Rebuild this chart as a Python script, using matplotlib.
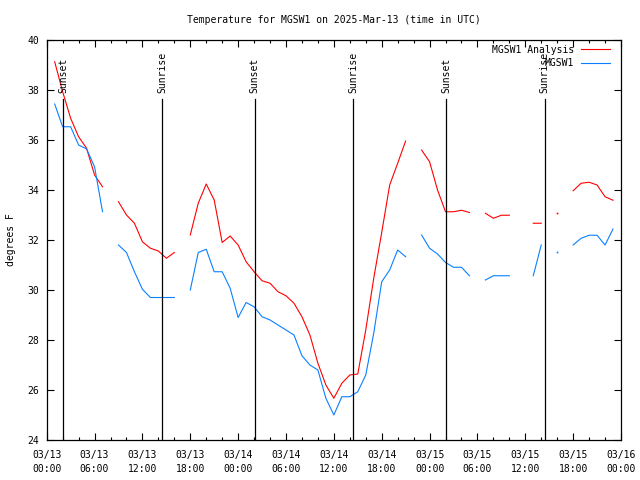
import numpy as np
import pandas as pd
import matplotlib
matplotlib.use('Agg')
import matplotlib.pyplot as plt
import matplotlib.dates as mdates
import matplotlib.transforms as mtransforms

# hourly values from 2025-03-13 00:00 UTC, None = no data
analysis_temp = [None, 39.13, 37.93, 36.87, 36.13, 35.67, 34.6, 34.13, None,
                 33.53, 33.0, 32.67, 31.93, 31.67, 31.56, 31.27, 31.5, None,
                 32.2, 33.47, 34.24, 33.6, 31.9, 32.16, 31.8, 31.13, 30.73,
                 30.37, 30.27, 29.93, 29.77, 29.47, 28.93, 28.2, 27.07, 26.2,
                 25.67, 26.27, 26.6, 26.64, 28.4, 30.47, 32.3, 34.2, 35.07,
                 35.96, None, 35.6, 35.13, 34.0, 33.13, 33.13, 33.19, 33.1,
                 None, 33.07, 32.87, 32.99, 32.99, None, None, 32.67, 32.67,
                 None, 33.07, None, 33.97, 34.27, 34.31, 34.2, 33.73, 33.59,
                 None]
station_temp = [None, 37.44, 36.53, 36.53, 35.8, 35.64, 34.93, 33.13, None,
                31.8, 31.5, 30.73, 30.03, 29.7, 29.7, 29.7, 29.7, None,
                30.0, 31.5, 31.63, 30.73, 30.73, 30.07, 28.9, 29.5, 29.33,
                28.93, 28.8, 28.6, 28.4, 28.2, 27.37, 27.0, 26.8, 25.67,
                25.0, 25.73, 25.73, 25.93, 26.6, 28.27, 30.33, 30.8, 31.6,
                31.33, None, 32.2, 31.67, 31.44, 31.1, 30.91, 30.91, 30.57,
                None, 30.4, 30.57, 30.57, 30.57, None, None, 30.57, 31.8,
                None, 31.5, None, 31.8, 32.07, 32.19, 32.19, 31.8, 32.44,
                None]

sunsets = ['2025-03-13 02:03', '2025-03-14 02:04', '2025-03-15 02:05']
sunrises = ['2025-03-13 14:27', '2025-03-14 14:27', '2025-03-15 14:25']

times = pd.date_range('2025-03-13 00:00', periods=len(analysis_temp), freq='h')
red = np.array([np.nan if v is None else v for v in analysis_temp])
blue = np.array([np.nan if v is None else v for v in station_temp])

fs = 7.05
plt.rcParams['font.family'] = 'DejaVu Sans Mono'
plt.rcParams['font.size'] = fs

fig = plt.figure(figsize=(6.4, 4.8), dpi=100)
ax = fig.add_axes([46.7 / 640, 40 / 480, 574.3 / 640, 400 / 480])

ax.plot(times, red, color='#ff0000', lw=0.8, label='MGSW1 Analysis')
ax.plot(times, blue, color='#0a80ff', lw=0.8, label='MGSW1')


# points with no neighbours would not show as a line
def lonely(y):
    ok = ~np.isnan(y)
    prev = np.r_[False, ok[:-1]]
    nxt = np.r_[ok[1:], False]
    return ok & ~prev & ~nxt


for y, c in [(red, '#ff0000'), (blue, '#0a80ff')]:
    m = lonely(y)
    ax.plot(times[m], y[m], ls='none', marker='s', ms=1.2, mew=0, color=c)

trans = mtransforms.blended_transform_factory(ax.transData, ax.transAxes)
for name, lst in [('Sunset', sunsets), ('Sunrise', sunrises)]:
    for t in lst:
        t = pd.Timestamp(t)
        ax.axvline(t, ymin=0, ymax=0.8525, color='black', lw=0.9)
        ax.text(t, 0.868, name, rotation=90, ha='center', va='bottom',
                transform=trans, fontsize=fs)

ax.set_xlim(pd.Timestamp('2025-03-13 00:00'), pd.Timestamp('2025-03-16 00:00'))
ax.set_ylim(24, 40)
ax.set_yticks(np.arange(24, 41, 2))
ax.xaxis.set_major_locator(mdates.HourLocator(byhour=range(0, 24, 6)))
ax.xaxis.set_minor_locator(mdates.HourLocator(interval=2))
ax.xaxis.set_major_formatter(mdates.DateFormatter('%m/%d\n%H:%M'))

ax.tick_params(which='both', direction='in', top=True, right=True,
               labelsize=fs, width=0.8)
ax.tick_params(which='major', length=5)
ax.tick_params(which='minor', length=2.5)
ax.tick_params(axis='x', pad=7.2)
ax.tick_params(axis='y', pad=5.3)
for s in ax.spines.values():
    s.set_linewidth(0.9)

ax.set_ylabel('degrees F', fontsize=fs)
ax.yaxis.set_label_coords(-0.0538, 0.5)
fig.text(333.5 / 640, 1 - 20 / 480, 'Temperature for MGSW1 on 2025-Mar-13 (time in UTC)',
         ha='center', va='center', fontsize=fs)

ax.legend(loc='upper right', bbox_to_anchor=(0.981, 0.988), frameon=False,
          markerfirst=False, handlelength=3.0, handletextpad=0.7,
          labelspacing=0.35, borderpad=0, borderaxespad=0, fontsize=fs)

fig.canvas.draw()
for lbl in ax.get_xticklabels():
    lbl.set_linespacing(1.45)

fig.savefig('out.png', dpi=100)
